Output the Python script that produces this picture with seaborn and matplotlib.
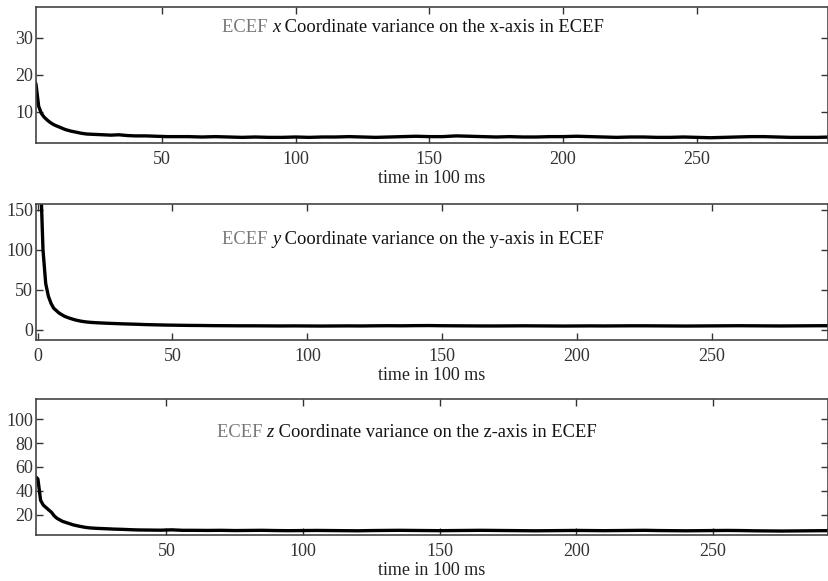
import matplotlib
matplotlib.use("Agg")
import matplotlib.pyplot as plt
import seaborn as sns
import pandas as pd

# time samples (units of 100 ms)
t = [1, 2, 3, 4, 5, 6, 7, 8, 9, 10, 12, 14, 16, 18, 20, 22, 25, 28, 31, 34, 37, 40,
     44, 48, 52, 56, 60,
     65, 70, 75, 80, 85, 90, 95, 100, 105, 110, 115, 120, 125, 130, 135, 140,
     145, 150, 155, 160, 165, 170, 175, 180, 185, 190, 195, 200, 205, 210, 215,
     220, 225, 230, 235, 240, 245, 250, 255, 260, 265, 270, 275, 280, 285, 290,
     295, 300]

var_x = [20, 19, 17.5, 11.5, 9.6, 8.6, 7.9, 7.3, 6.8, 6.4, 5.8, 5.2, 4.8, 4.5, 4.2,
         4.0, 3.9, 3.8, 3.7, 3.8, 3.6, 3.5, 3.5, 3.4, 3.3, 3.3, 3.3,
         3.2, 3.3, 3.2, 3.1, 3.2, 3.1, 3.1, 3.2, 3.1, 3.2,
         3.2, 3.3, 3.2, 3.1, 3.2, 3.3, 3.4, 3.3, 3.3, 3.5,
         3.4, 3.3, 3.2, 3.3, 3.2, 3.2, 3.3, 3.3, 3.4, 3.3,
         3.2, 3.1, 3.2, 3.2, 3.1, 3.1, 3.2, 3.1, 3.0, 3.1,
         3.2, 3.3, 3.3, 3.2, 3.1, 3.1, 3.1, 3.2]

var_y = [200, 100, 58, 42, 33, 27, 24, 21, 19, 17, 14.5, 12.5, 11, 10, 9.4, 9.0,
         8.5, 8.1, 7.7, 7.4, 7.1, 6.7, 6.4, 6.1, 5.9, 5.7, 5.6,
         5.4, 5.3, 5.2, 5.2, 5.1, 5.0, 5.1, 5.0, 4.9, 5.0,
         5.1, 5.0, 5.2, 5.3, 5.2, 5.4, 5.5, 5.3, 5.2, 5.1,
         5.0, 5.0, 5.1, 5.2, 5.1, 5.0, 4.9, 5.0, 5.1, 5.0,
         5.1, 5.2, 5.2, 5.1, 5.0, 4.9, 5.0, 5.1, 5.2, 5.3,
         5.2, 5.1, 5.0, 5.1, 5.2, 5.3, 5.3, 5.2]

var_z = [55, 52, 50, 32, 28, 26, 24, 22, 19, 17, 14.5, 13, 11.5, 10.5, 9.6, 9.0,
         8.6, 8.3, 8.0, 7.8, 7.5, 7.3, 7.2, 7.1, 7.4, 7.0, 7.0,
         6.9, 7.0, 6.8, 6.9, 7.0, 6.8, 6.7, 6.8, 6.9, 6.8,
         6.7, 6.6, 6.8, 6.9, 7.0, 6.9, 6.8, 6.7, 6.8, 6.9,
         7.0, 6.9, 6.8, 6.7, 6.6, 6.7, 6.8, 6.9, 6.8, 6.7,
         6.8, 6.9, 7.0, 6.8, 6.7, 6.6, 6.7, 6.8, 6.9, 6.8,
         6.6, 6.5, 6.4, 6.5, 6.6, 6.7, 6.8, 6.9]

axis_names = ["x", "y", "z"]
y_ticks = [[10, 20, 30], [0, 50, 100, 150], [20, 40, 60, 80, 100]]
x_ticks = [0, 50, 100, 150, 200, 250]

sns.set_theme(style="ticks")
plt.rcParams["font.family"] = ["Liberation Serif", "DejaVu Serif"]

df = pd.DataFrame({"time": t, "x": var_x, "y": var_y, "z": var_z})

fig = plt.figure(figsize=(8.29, 5.81), dpi=100)
bottoms = [0.754, 0.4148, 0.0790]
xlims = [(3, 299), (-0.6, 293), (2.3, 292)]
ylims = [(1.6, 38.3), (-12.5, 157), (3, 116.7)]
text_pos = [(0.2345, 0.816), (0.235, 0.706), (0.228, 0.72)]

for i, name in enumerate(axis_names):
    ax = fig.add_axes([0.0434, bottoms[i], 0.9554, 0.234])
    sns.lineplot(data=df, x="time", y=name, ax=ax, color="black",
                 linewidth=2.4, estimator=None)
    ax.set_xticks(x_ticks)
    ax.set_yticks(y_ticks[i])
    # limits after ticks, otherwise set_xticks widens the view
    ax.set_xlim(*xlims[i])
    ax.set_ylim(*ylims[i])
    ax.set_ylabel("")
    ax.set_xlabel("time in 100 ms", fontsize=13, color="#222222", labelpad=1)
    ax.tick_params(direction="in", length=5, width=1, color="#333333",
                   labelsize=13, labelcolor="#333333", top=True, right=True)
    ax.tick_params(axis="x", pad=6)
    ax.tick_params(axis="y", pad=2)
    for sp in ax.spines.values():
        sp.set_visible(True)
        sp.set_color("#444444")
        sp.set_linewidth(1.2)

    # panel caption: grey "ECEF", italic axis letter, then description
    tx, ty = text_pos[i]
    t1 = ax.text(tx, ty, "ECEF ", transform=ax.transAxes, fontsize=13.3,
                 color="#777777", va="baseline")
    t2 = ax.annotate(name, xy=(1, 0), xycoords=t1, va="bottom", ha="left",
                     fontsize=13.3, fontstyle="italic", color="#111111")
    ax.annotate(f" Coordinate variance on the {name}-axis in ECEF", xy=(1, 0),
                xycoords=t2, va="bottom", ha="left", fontsize=13.3, color="#111111")

fig.savefig("out.png", dpi=100)
